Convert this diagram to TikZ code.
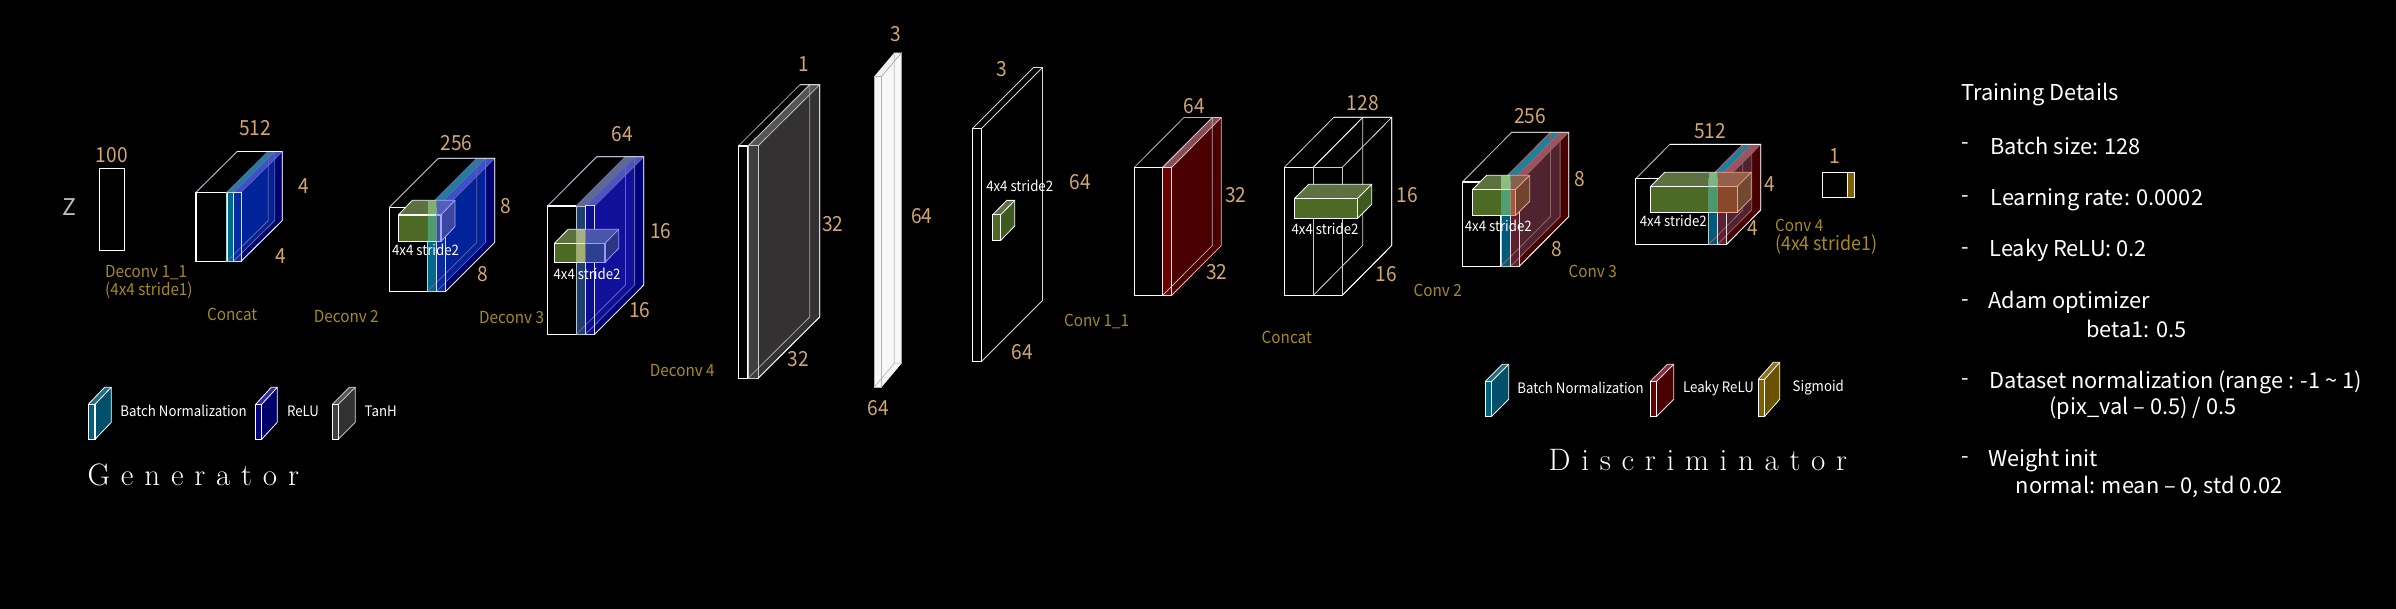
\documentclass[tikz,border=0pt]{standalone}
\usepackage{fontspec}
\newfontfamily\bodyf{Noto Sans CJK KR}
\newfontfamily\condf[FakeStretch=0.92]{Noto Sans CJK KR}
\definecolor{numc}{HTML}{D2A76E}
\definecolor{goldc}{HTML}{A68A20}
\definecolor{gfront}{HTML}{4C6A24}
\definecolor{gtop}{HTML}{5C7040}
\definecolor{gside}{HTML}{3F5A20}
\newcommand{\dc}[1]{\definecolor{c#1}{HTML}{#1}}
\dc{4E9B6E}\dc{80B070}\dc{3A4F9F}\dc{3B46A0}\dc{5360B8}\dc{A0B070}\dc{A8B080}\dc{2D3F8F}\dc{2A3585}\dc{4A56A8}
\dc{3F3F3F}\dc{333132}\dc{555555}\dc{F7F7F7}\dc{EFEFEF}\dc{4C6A24}\dc{5C7040}\dc{3F5A20}\dc{680000}\dc{4A0000}
\dc{805058}\dc{4F9F70}\dc{8DBB80}\dc{A85840}\dc{704530}\dc{85604A}\dc{F0A090}\dc{4A9A70}\dc{7FB580}\dc{88482A}
\dc{704A30}\dc{95604A}\dc{7F6200}\dc{00607F}\dc{004F6B}\dc{1F6F88}\dc{000080}\dc{000068}\dc{2A2AB0}\dc{660000}
\dc{803040}\dc{6A5200}\dc{8A7020}
\tikzset{
 x=0.5pt,y=-0.5pt,
 numlab/.style={text=numc,font=\condf\fontsize{10.4}{12}\selectfont,inner sep=0pt},
 goldlab/.style={text=goldc,font=\condf\fontsize{8.3}{10}\selectfont,inner sep=0pt},
 whitelab/.style={text=white,font=\condf\fontsize{7.2}{9}\selectfont,inner sep=0pt},
 leglab/.style={text=white,anchor=west,font=\condf\fontsize{7.2}{9}\selectfont,inner sep=0pt},
 bodylab/.style={text=white,anchor=west,font=\bodyf\fontsize{10.9}{13}\selectfont,inner sep=0pt,yshift=-1.0pt},
 titlelab/.style={text=white,anchor=base west,font=\rmfamily\fontsize{15.5}{18}\selectfont,inner sep=0pt},
 edge/.style={line width=0.6pt,line join=miter},
 thinedge/.style={line width=0.4pt},
}
% x0 x1 top bot dx dy front side top
\newcommand{\slab}[9]{%
 \fill[#9] (#1,#3)--({#1+#5},{#3-#6})--({#2+#5},{#3-#6})--(#2,#3)--cycle;
 \fill[#8] (#2,#3)--({#2+#5},{#3-#6})--({#2+#5},{#4-#6})--(#2,#4)--cycle;
 \fill[#7] (#1,#3) rectangle (#2,#4);}
% x0 x1 top bot dx dy frontcolour depthcolour
\newcommand{\edges}[8]{%
 \draw[thinedge,#8] (#1,#3)--({#1+#5},{#3-#6})--({#2+#5},{#3-#6})--({#2+#5},{#4-#6})--(#2,#4);
 \draw[thinedge,#8] (#2,#3)--({#2+#5},{#3-#6});
 \draw[edge,#7] (#1,#3) rectangle (#2,#4);}
\newcommand{\palette}[7]{%
 \definecolor{Af}{HTML}{#1}\definecolor{As}{HTML}{#2}\definecolor{At}{HTML}{#3}%
 \definecolor{Bf}{HTML}{#4}\definecolor{Bs}{HTML}{#5}\definecolor{Bt}{HTML}{#6}%
 \definecolor{Ov}{HTML}{#7}}
% x0 xa xb xc top bot dx dy : empty, layer A, layer B
\newcommand{\stackbox}[8]{%
 \slab{#2}{#3}{#5}{#6}{#7}{#8}{Af}{As}{At}%
 \slab{#3}{#4}{#5}{#6}{#7}{#8}{Bf}{Bs}{Bt}%
 \begin{scope}
  \clip (#3,#5)--({#3+#7},{#5-#8})--({#3+#7},{#6-#8})--(#3,#6)--cycle;
  \fill[Ov] (#4,#5)--({#4+#7},{#5-#8})--({#4+#7},{#6-#8})--(#4,#6)--cycle;
 \end{scope}
 \edges{#1}{#2}{#5}{#6}{#7}{#8}{white}{white!40!Bs}%
 \edges{#2}{#3}{#5}{#6}{#7}{#8}{white!70!Af,line width=0.45pt}{white!40!Bs}%
 \edges{#3}{#4}{#5}{#6}{#7}{#8}{white!85!Bf,line width=0.5pt}{white!40!Bs}%
 \draw[thinedge,white!70!black] (#1,#5)--({#1+#7},{#5-#8});
 \draw[thinedge,white] ({#1+#7},{#5-#8})--({#4+#7},{#5-#8})--({#4+#7},{#6-#8})--(#4,#6);}
\newcommand{\kernelface}[9]{%
 \fill[#9] (#1,#3)--({#1+#5},{#3-#6})--({#2+#5},{#3-#6})--(#2,#3)--cycle;
 \fill[#8] (#2,#3)--({#2+#5},{#3-#6})--({#2+#5},{#4-#6})--(#2,#4)--cycle;
 \fill[#7] (#1,#3) rectangle (#2,#4);}
\newcommand{\kedges}[7]{%
 \draw[thinedge,#7] (#1,#3)--({#1+#5},{#3-#6})--({#2+#5},{#3-#6})--({#2+#5},{#4-#6})--(#2,#4);
 \draw[thinedge,#7] (#2,#3)--({#2+#5},{#3-#6});
 \draw[edge,#7] (#1,#3) rectangle (#2,#4);}
\newcommand{\kernelargs}[6]{\def\ka{#1}\def\kb{#2}\def\kc{#3}\def\kd{#4}\def\ke{#5}\def\kf{#6}}
% s1 s2 bandfront bandtop rightfront rightside righttop rightedge
\newcommand{\kernel}[8]{%
 \begin{scope}\clip (0,0) rectangle (#1,609);
  \kernelface{\ka}{\kb}{\kc}{\kd}{\ke}{\kf}{gfront}{gside}{gtop}
  \kedges{\ka}{\kb}{\kc}{\kd}{\ke}{\kf}{white}\end{scope}
 \begin{scope}\clip (#1,0) rectangle (#2,609);
  \kernelface{\ka}{\kb}{\kc}{\kd}{\ke}{\kf}{#3}{#5}{#4}
  \kedges{\ka}{\kb}{\kc}{\kd}{\ke}{\kf}{white!80!#3}\end{scope}
 \begin{scope}\clip (#2,0) rectangle (2396,609);
  \kernelface{\ka}{\kb}{\kc}{\kd}{\ke}{\kf}{#5}{#6}{#7}
  \kedges{\ka}{\kb}{\kc}{\kd}{\ke}{\kf}{#8}\end{scope}}
\begin{document}
\begin{tikzpicture}
\useasboundingbox (0,0) rectangle (2396,609);
\fill[black] (0,0) rectangle (2396,609);

% Z
\node[text=white!75!black,font=\bodyf\fontsize{11.5}{12}\selectfont,inner sep=0pt] (z) at (69.6,206.7) {Z};
\node[numlab] (n100) at (111.7,155) {100};
\draw[edge,white] (99.4,168.3) rectangle (124.3,250.3);

% Concat 512
\palette{006A8C}{004F6B}{1F7F98}{0A2AA0}{00006E}{3B50D0}{00239A}
\stackbox{195.9}{226.9}{233.4}{241}{192.3}{261.3}{41.3}{40.7}
\node[numlab] (n512) at (255.2,128.3) {512};
\node[numlab] (n4a) at (304.2,186) {4};
\node[numlab] (n4b) at (281.2,256) {4};
\node[goldlab,anchor=west] (dc1a) at (104.8,272.7) {Deconv 1\_1};
\node[goldlab,anchor=west] (dc1b) at (104.8,290) {(4x4 stride1)};
\node[goldlab] (cc1) at (232.2,314.3) {Concat};

% Deconv 2
\stackbox{389.5}{427.8}{436.6}{445.8}{207.3}{291.3}{49}{49}
\kernelargs{398.3}{441}{215}{241.3}{14}{14.7}
\kernel{427.8}{436.6}{c4E9B6E}{c80B070}{c3A4F9F}{c3B46A0}{c5360B8}{white!65!blue}
\node[numlab] (n256) at (456.5,142.7) {256};
\node[numlab] (n8a) at (505.8,205.7) {8};
\node[numlab] (n8b) at (482.9,274) {8};
\node[whitelab] (k2) at (425.5,250.3) {4x4 stride2};
\node[goldlab] (dc2) at (346.3,316.7) {Deconv 2};

% Deconv 3
\palette{1F3F70}{101090}{5B6B8A}{0D0D90}{00007A}{4A55C0}{10109A}
\stackbox{547.6}{576.3}{585.4}{594.6}{206}{334.3}{49.2}{49.3}
\kernelargs{554.4}{605}{243.3}{262.3}{13.7}{14}
\kernel{576.3}{585.4}{cA0B070}{cA8B080}{c2D3F8F}{c2A3585}{c4A56A8}{white!60!blue}
\node[numlab] (n64a) at (622.6,134) {64};
\node[numlab] (n16a) at (660.8,231) {16};
\node[numlab] (n16b) at (639.8,310) {16};
\node[whitelab] (k3) at (587,274) {4x4 stride2};
\node[goldlab] (dc3) at (511.6,317.7) {Deconv 3};

% Deconv 4
\slab{748}{758}{146}{378.3}{61.7}{61.3}{c3F3F3F}{c333132}{c555555}
\edges{738.3}{748}{146}{378.3}{61.7}{61.3}{white}{white!65!black}
\edges{748}{758}{146}{378.3}{61.7}{61.3}{white!80!black,line width=0.5pt}{white!75!black}
\draw[thinedge,white] (800,84.7)--(819.7,84.7)--(819.7,317)--(758,378.3);
\node[numlab] (n1a) at (803.7,64) {1};
\node[numlab] (n32a) at (832.7,224.3) {32};
\node[numlab] (n32b) at (798.3,359.3) {32};
\node[goldlab] (dc4) at (682.3,370.7) {Deconv 4};

% Output image
\slab{874.3}{881.7}{76.3}{387}{20}{23.7}{cF7F7F7}{cF7F7F7}{cEFEFEF}
\draw[thinedge,white!70!black] (874.3,76.3) rectangle (881.7,387);
\draw[thinedge,white!70!black] (881.7,76.3)--(901.7,52.6);
\draw[thinedge,white!75!black] (894.3,52.6)--(894.3,363.3)--(874.3,387) (894.3,363.3)--(901.7,363.3);
\node[numlab] (n3a) at (895.3,34.3) {3};
\node[numlab] (n64b) at (921.7,216) {64};
\node[numlab] (n64c) at (878.3,408.3) {64};

% Conv 1_1 input
\edges{972.7}{981.7}{128.3}{361.3}{60.7}{60.7}{white}{white!85!black}
\kernelargs{992.7}{1000.7}{214.7}{240.3}{14}{14.3}
\kernel{2396}{2396}{c4C6A24}{c5C7040}{c4C6A24}{c3F5A20}{c5C7040}{white}
\node[numlab] (n3b) at (1001.3,69.3) {3};
\node[numlab] (n64d) at (1022.3,352.3) {64};
\node[numlab] (n64e) at (1080.6,182.3) {64};
\node[whitelab] (k4) at (1019.7,186) {4x4 stride2};
\node[goldlab] (cv1) at (1096.6,321.7) {Conv 1\_1};

% Leaky box
\slab{1162.7}{1171.7}{167.3}{295.3}{49.5}{49.7}{c680000}{c4A0000}{c805058}
\edges{1134.3}{1162.7}{167.3}{295.3}{49.5}{49.7}{white}{white!70!black}
\edges{1162.7}{1171.7}{167.3}{295.3}{49.5}{49.7}{white!90!red,line width=0.5pt}{white!70!red}
\node[numlab] (n64f) at (1194.3,106) {64};
\node[numlab] (n32c) at (1235.7,195) {32};
\node[numlab] (n32d) at (1216.7,272.3) {32};

% Concat 128
\edges{1284.3}{1313.3}{167.3}{295.3}{49.5}{50}{white}{white!85!black}
\edges{1313.3}{1342.3}{167.3}{295.3}{49.5}{50}{white!80!black}{white!90!black}
\draw[thinedge,white] (1333.8,117.3)--(1391.8,117.3)--(1391.8,245.3)--(1342.3,295.3);
\draw[edge,white] (1284.3,295.3)--(1342.3,295.3);
\kernelargs{1294.7}{1357.7}{198.3}{218.3}{14}{14}
\kernel{2396}{2396}{c4C6A24}{c5C7040}{c4C6A24}{c3F5A20}{c5C7040}{white}
\node[numlab] (n128) at (1362.7,103.3) {128};
\node[numlab] (n16c) at (1407.3,195) {16};
\node[numlab] (n16d) at (1386.3,274) {16};
\node[whitelab] (k5) at (1325,229.3) {4x4 stride2};
\node[goldlab] (cc2) at (1286.7,337.3) {Concat};
\node[goldlab] (cv2) at (1437.7,290.7) {Conv 2};

% Conv 2
\palette{005A7C}{005A7C}{1F7F9F}{5E2030}{4A0000}{A05060}{4F2430}
\stackbox{1462.3}{1501}{1510.7}{1519.3}{182}{266.3}{49.4}{49.7}
\kernelargs{1472.7}{1515.7}{189.3}{215.3}{14}{14}
\kernel{1501}{1510.7}{c4F9F70}{c8DBB80}{cA85840}{c704530}{c85604A}{cF0A090}
\node[numlab] (n256b) at (1530,116) {256};
\node[numlab] (n8c) at (1580,179.3) {8};
\node[numlab] (n8d) at (1556.7,249) {8};
\node[whitelab] (k6) at (1498.3,226) {4x4 stride2};
\node[goldlab] (cv3) at (1592.7,271.7) {Conv 3};

% Conv 3
\stackbox{1635.7}{1708.7}{1717.7}{1726.7}{178.7}{244.3}{34}{34.3}
\kernelargs{1650.7}{1737.3}{186.3}{212.3}{14}{14}
\kernel{1708.7}{1717.7}{c4A9A70}{c7FB580}{c88482A}{c704A30}{c95604A}{cF0A090}
\node[numlab] (n512b) at (1710,131) {512};
\node[numlab] (n4c) at (1769.3,184) {4};
\node[numlab] (n4d) at (1752.7,228.3) {4};
\node[whitelab] (k7) at (1673.3,221) {4x4 stride2};

% Conv 4 output
\fill[c7F6200] (1847.3,172.3) rectangle (1854.7,197.7);
\draw[edge,white] (1822.3,172.3) rectangle (1854.7,197.7);
\draw[edge,white] (1847.3,172.3)--(1847.3,197.7);
\node[numlab] (n1b) at (1835,156) {1};
\node[goldlab,anchor=west] (cv4a) at (1774.7,225.7) {Conv 4};
\node[goldlab,anchor=west,font=\condf\fontsize{9.7}{11}\selectfont] (cv4b) at (1774.7,244.3) {(4x4 stride1)};

% Generator legend
\slab{88.3}{95}{404.3}{439.3}{16.3}{17}{c00607F}{c004F6B}{c1F6F88}
\edges{88.3}{95}{404.3}{439.3}{16.3}{17}{white}{white}
\node[leglab] (lg1) at (120,411) {Batch Normalization};
\slab{255.7}{261.7}{404.3}{439.3}{15.6}{17}{c000080}{c000068}{c2A2AB0}
\edges{255.7}{261.7}{404.3}{439.3}{15.6}{17}{white}{white}
\node[leglab] (lg2) at (286.7,411) {ReLU};
\slab{332.3}{338.3}{404.3}{439.3}{17}{17}{c3F3F3F}{c333132}{c555555}
\edges{332.3}{338.3}{404.3}{439.3}{17}{17}{white}{white!85!black}
\node[leglab] (lg3) at (364.3,411) {TanH};
\node[titlelab] (gen) at (87.3,485) {G\hspace{5.4pt}e\hspace{5.4pt}n\hspace{5.4pt}e\hspace{5.4pt}r\hspace{5.4pt}a\hspace{5.4pt}t\hspace{5.4pt}o\hspace{5.4pt}r};

% Discriminator legend
\slab{1485.3}{1491.7}{381.3}{416.3}{17}{17}{c00607F}{c004F6B}{c1F6F88}
\edges{1485.3}{1491.7}{381.3}{416.3}{17}{17}{white}{white}
\node[leglab] (ld1) at (1517,388) {Batch Normalization};
\slab{1650.3}{1656.7}{381.3}{416.3}{17}{17}{c660000}{c4A0000}{c803040}
\edges{1650.3}{1656.7}{381.3}{416.3}{17}{17}{white}{white!85!red}
\node[leglab] (ld2) at (1682.7,388) {Leaky ReLU};
\slab{1758.3}{1764.7}{379.3}{416.3}{15}{17}{c7F6200}{c6A5200}{c8A7020}
\edges{1758.3}{1764.7}{379.3}{416.3}{15}{17}{white}{white}
\node[leglab] (ld3) at (1792.3,388) {Sigmoid};
\node[titlelab] (dis) at (1548.3,470) {D\hspace{5.35pt}i\hspace{5.35pt}s\hspace{5.35pt}c\hspace{5.35pt}r\hspace{5.35pt}i\hspace{5.35pt}m\hspace{5.35pt}i\hspace{5.35pt}n\hspace{5.35pt}a\hspace{5.35pt}t\hspace{5.35pt}o\hspace{5.35pt}r};

% Training details
\node[bodylab] (t0) at (1961,92.7) {Training Details};
\node[bodylab] (d1) at (1961,144.3) {-};
\node[bodylab] (t1) at (1990,144.3) {Batch size: 128};
\node[bodylab] (d2) at (1961,197.3) {-};
\node[bodylab] (t2) at (1990,197.3) {Learning rate: 0.0002};
\node[bodylab] (d3) at (1961,248.7) {-};
\node[bodylab] (t3) at (1989,248.7) {Leaky ReLU: 0.2};
\node[bodylab] (d4) at (1961,300.7) {-};
\node[bodylab] (t4) at (1988,300.7) {Adam optimizer};
\node[bodylab] (t4b) at (2085.7,326.7) {beta1: 0.5};
\node[bodylab] (d5) at (1961,380) {-};
\node[bodylab] (t5) at (1989,380) {Dataset normalization (range : -1 \textasciitilde{} 1)};
\node[bodylab] (t5b) at (2049,406) {(pix\_val – 0.5) / 0.5};
\node[bodylab] (d6) at (1961,458.3) {-};
\node[bodylab] (t6) at (1988,458.3) {Weight init};
\node[bodylab] (t6b) at (2015.3,485) {normal: mean – 0, std 0.02};
\end{tikzpicture}
\end{document}
